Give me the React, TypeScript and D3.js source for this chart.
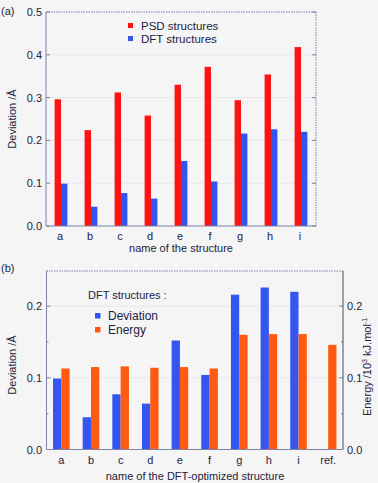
import * as d3 from "d3";

// panel (a)
const namesA = ["a", "b", "c", "d", "e", "f", "g", "h", "i"];
const psdDev = [0.296, 0.224, 0.312, 0.258, 0.33, 0.372, 0.294, 0.354, 0.418];
const dftDev = [0.099, 0.045, 0.077, 0.064, 0.152, 0.104, 0.216, 0.226, 0.22];
const ticksA = [0, 0.1, 0.2, 0.3, 0.4, 0.5];

// panel (b)
const namesB = ["a", "b", "c", "d", "e", "f", "g", "h", "i", "ref."];
const devB = [0.099, 0.045, 0.077, 0.064, 0.152, 0.104, 0.216, 0.226, 0.22, null];
const energyB = [0.113, 0.115, 0.116, 0.114, 0.115, 0.113, 0.16, 0.161, 0.161, 0.146];
const ticksB = [0, 0.1, 0.2];

const RED = "#ff1212";
const BLUE = "#3456ee";
const ORANGE = "#ff5a12";
const AXIS = "#7d82aa";
const TXT = "#23233f";
const FONT = "'Liberation Sans', Arial, sans-serif";

export default function App() {
  const W = 378;
  const H = 483;

  // scales (a)
  const xa = d3.scaleBand<string>().domain(namesA).range([46, 316]);
  const ya = d3.scaleLinear().domain([0, 0.5]).range([226, 12]);
  const bwA = 6.4;

  // scales (b): left deviation, right energy (same span)
  const xb = d3.scaleBand<string>().domain(namesB).range([46.5, 343]);
  const yb = d3.scaleLinear().domain([0, 0.249]).range([449.5, 271]);
  const yb2 = d3.scaleLinear().domain([0, 0.249]).range([449.5, 271]);
  const bwB = 8.3;

  return (
    <svg width={W} height={H} style={{ position: "absolute", left: 0, top: 0, background: "#f5f5f5" }} fontFamily={FONT}>
      <rect width={W} height={H} fill="#f5f5f5" />

      {/* ---------- (a) ---------- */}
      <text x={1} y={15} fontSize={11} fill={TXT}>(a)</text>
      {ticksA.map((t) => (
        <g key={"ga" + t}>
          {t > 0 && t < 0.5 && (
            <line x1={46} x2={316} y1={ya(t)} y2={ya(t)} stroke="#e6e8ec" strokeWidth={1} />
          )}
          <line x1={46} x2={50} y1={ya(t)} y2={ya(t)} stroke={AXIS} />
          <line x1={312} x2={316} y1={ya(t)} y2={ya(t)} stroke={AXIS} />
          <text x={42} y={ya(t) + 4} fontSize={11} textAnchor="end" fill={TXT}>
            {d3.format(".1f")(t)}
          </text>
        </g>
      ))}
      {namesA.map((n, i) => {
        const c = (xa(n) as number) + xa.bandwidth() / 2;
        return (
          <g key={"ba" + n}>
            <rect x={c - bwA} y={ya(psdDev[i])} width={bwA} height={ya(0) - ya(psdDev[i])} fill={RED} />
            <rect x={c} y={ya(dftDev[i])} width={bwA} height={ya(0) - ya(dftDev[i])} fill={BLUE} />
            <text x={c - 1} y={240} fontSize={11} textAnchor="middle" fill={TXT}>{n}</text>
          </g>
        );
      })}
      <line x1={46} x2={46} y1={12} y2={226} stroke={AXIS} />
      <line x1={46} x2={316} y1={226} y2={226} stroke={AXIS} />
      <line x1={46} x2={316} y1={12} y2={12} stroke={AXIS} strokeDasharray="1.5 1" />
      <line x1={316} x2={316} y1={12} y2={226} stroke={AXIS} strokeDasharray="1.5 1" />
      <text transform="translate(16,119) rotate(-90)" fontSize={11} textAnchor="middle" fill={TXT}>Deviation /Å</text>
      <text x={181} y={252} fontSize={11} textAnchor="middle" fill={TXT}>name of the structure</text>
      {/* legend (a) */}
      <rect x={128} y={23} width={5} height={5} fill={RED} />
      <text x={141} y={30} fontSize={11.5} fill={TXT}>PSD structures</text>
      <rect x={128} y={36} width={5} height={5} fill={BLUE} />
      <text x={141} y={43} fontSize={11.5} fill={TXT}>DFT structures</text>

      {/* ---------- (b) ---------- */}
      <text x={1} y={272} fontSize={11} fill={TXT}>(b)</text>
      {ticksB.map((t) => (
        <g key={"gb" + t}>
          {t > 0 && (
            <line x1={46.5} x2={343} y1={yb(t)} y2={yb(t)} stroke="#e6e8ec" strokeWidth={1} />
          )}
          <line x1={46.5} x2={50.5} y1={yb(t)} y2={yb(t)} stroke={AXIS} />
          <line x1={339} x2={343} y1={yb2(t)} y2={yb2(t)} stroke={AXIS} />
          <text x={42} y={yb(t) + 4} fontSize={11} textAnchor="end" fill={TXT}>
            {d3.format(".1f")(t)}
          </text>
          <text x={347} y={yb2(t) + 4} fontSize={11} textAnchor="start" fill={TXT}>
            {d3.format(".1f")(t)}
          </text>
        </g>
      ))}
      {[0.05, 0.15].map((t) => (
        <g key={"mb" + t}>
          <line x1={46.5} x2={48.5} y1={yb(t)} y2={yb(t)} stroke={AXIS} />
          <line x1={341} x2={343} y1={yb2(t)} y2={yb2(t)} stroke={AXIS} />
        </g>
      ))}
      {namesB.map((n, i) => {
        const c = (xb(n) as number) + xb.bandwidth() / 2;
        const d = devB[i];
        return (
          <g key={"bb" + n}>
            {d !== null && (
              <rect x={c - bwB} y={yb(d)} width={bwB} height={yb(0) - yb(d)} fill={BLUE} />
            )}
            <rect x={c} y={yb2(energyB[i])} width={bwB} height={yb2(0) - yb2(energyB[i])} fill={ORANGE} />
            <text x={c} y={464} fontSize={11} textAnchor="middle" fill={TXT}>{n}</text>
          </g>
        );
      })}
      <line x1={46.5} x2={46.5} y1={271} y2={449.5} stroke={AXIS} />
      <line x1={46.5} x2={343} y1={449.5} y2={449.5} stroke={AXIS} />
      <line x1={46.5} x2={343} y1={271} y2={271} stroke={AXIS} strokeDasharray="1.5 1" />
      <line x1={343} x2={343} y1={271} y2={449.5} stroke="#4a4a66" />
      <text transform="translate(16,365) rotate(-90)" fontSize={11} textAnchor="middle" fill={TXT}>Deviation /Å</text>
      <text transform="translate(371,367) rotate(-90)" fontSize={11} textAnchor="middle" fill={TXT}>
        Energy /10<tspan fontSize={7} dy={-4}>3</tspan><tspan dy={4}> kJ.mol</tspan><tspan fontSize={7} dy={-4}>-1</tspan>
      </text>
      <text x={195} y={480} fontSize={11} textAnchor="middle" fill={TXT}>name of the DFT-optimized structure</text>
      {/* legend (b) */}
      <text x={88} y={299} fontSize={11} fill={TXT}>DFT structures :</text>
      <rect x={95} y={313} width={5.5} height={5.5} fill={BLUE} />
      <text x={108} y={320} fontSize={12} fill={TXT}>Deviation</text>
      <rect x={95} y={327} width={5.5} height={5.5} fill={ORANGE} />
      <text x={108} y={334} fontSize={12} fill={TXT}>Energy</text>
    </svg>
  );
}
